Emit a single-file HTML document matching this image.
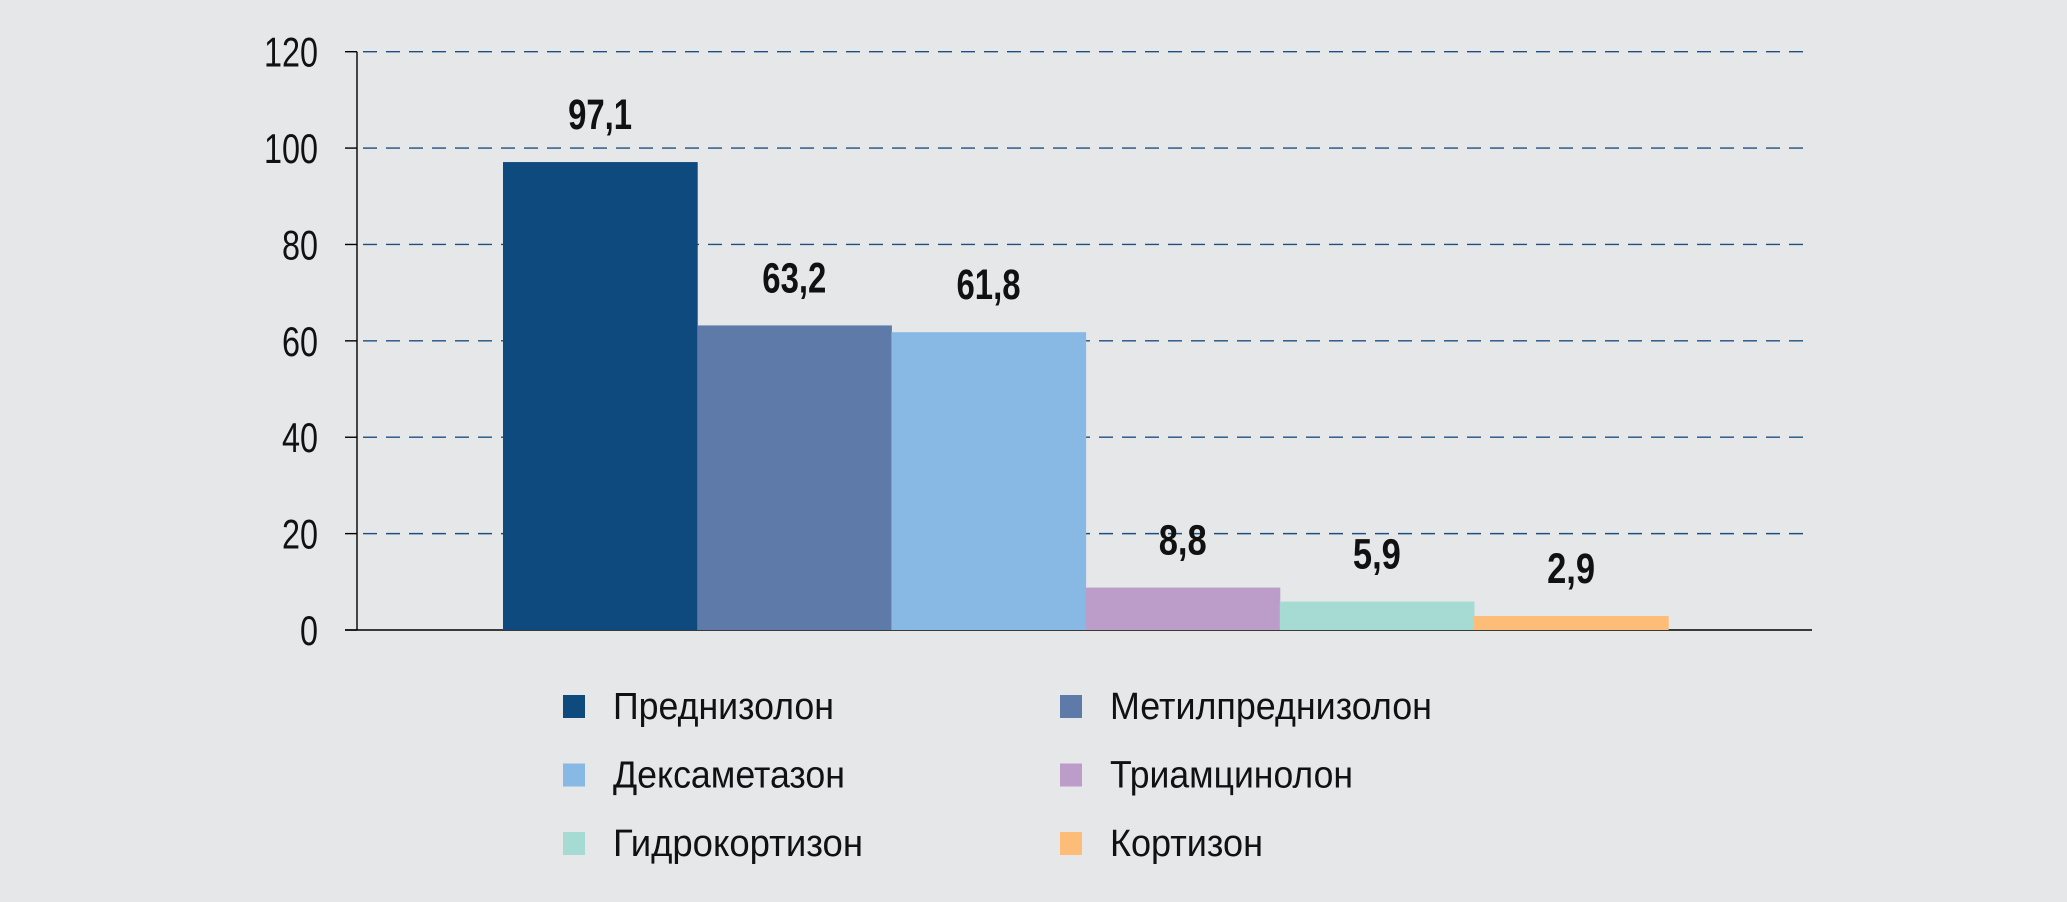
<!DOCTYPE html>
<html><head><meta charset="utf-8"><style>
html,body{margin:0;padding:0;background:#e6e7e9;}
svg{display:block;font-family:"Liberation Sans",sans-serif;}
</style></head><body>
<svg id="chart" width="2067" height="902" viewBox="0 0 2067 902" xmlns="http://www.w3.org/2000/svg">
<rect width="2067" height="902" fill="#e6e7e9"/>
<g id="grid"></g><g id="bars"></g><g id="legend"></g>
</svg>
<script>
const categories=["Преднизолон","Метилпреднизолон","Дексаметазон","Триамцинолон","Гидрокортизон","Кортизон"];
const values=[97.1,63.2,61.8,8.8,5.9,2.9];
const valueLabels=["97,1","63,2","61,8","8,8","5,9","2,9"];
const ticks=[0,20,40,60,80,100,120];
const colors=["#0f4a7e","#5e7aa9","#88b9e4","#bc9dc9","#a5dbd3","#fdbd79"];
const NS="http://www.w3.org/2000/svg";
const y0=630,y1=51.7,vmax=120,axisX=357,gridEnd=1812,barStart=503,barW=194.2;
const y=v=>y0-(y0-y1)*v/vmax;
function mk(tag,attrs,parent){const e=document.createElementNS(NS,tag);for(const k in attrs)e.setAttribute(k,attrs[k]);parent.appendChild(e);return e;}
const grid=document.getElementById('grid'),bars=document.getElementById('bars'),legend=document.getElementById('legend');
ticks.forEach(t=>{
  const yy=y(t);
  if(t>0){const g=mk('line',{x1:axisX+6,x2:gridEnd,y1:yy,y2:yy,stroke:'#1d4f80','stroke-width':1.4,'stroke-dasharray':'14 9'},grid);
  
  }
  const tk=mk('line',{x1:axisX-12,x2:axisX,y1:yy,y2:yy,stroke:'#000','stroke-width':1.4},grid);
  
  
  const w=String(t).length*18;
  const tx=mk('text',{x:318,y:yy+15,'text-anchor':'end','font-size':42,fill:'#111',textLength:w,lengthAdjust:'spacingAndGlyphs'},grid);
  tx.textContent=t;
  
  
});
const ax=mk('line',{x1:axisX,x2:axisX,y1:y1,y2:y0,stroke:'#000','stroke-width':1.4},grid);


const xa=mk('line',{x1:axisX-12,x2:gridEnd,y1:y0,y2:y0,stroke:'#000','stroke-width':1.6},grid);


values.forEach((v,i)=>{
  const x=barStart+i*barW,top=y(v);
  const r=mk('rect',{x:x,y:top,width:barW+0.5,height:y0-top,fill:colors[i]},bars);
  
  
  const lbl=valueLabels[i];
  const t=mk('text',{x:x+barW/2,y:top-33,'text-anchor':'middle','font-size':43,'font-weight':'bold',fill:'#111',textLength:lbl.length*16,lengthAdjust:'spacingAndGlyphs'},bars);
  t.textContent=lbl;
  
  
});
const legW=[221,322,232,243,250,153];
categories.forEach((c,i)=>{
  const col=i%2,row=Math.floor(i/2);
  const sx=col?1060:563,by=719+row*68.5;
  const g=mk('g',{},legend);
  
  
  mk('rect',{x:sx,y:by-24,width:22,height:23,fill:colors[i]},g);
  const t=mk('text',{x:sx+50,y:by,'font-size':38,fill:'#111',textLength:legW[i],lengthAdjust:'spacingAndGlyphs'},g);
  t.textContent=c;
});
</script>
</body></html>
